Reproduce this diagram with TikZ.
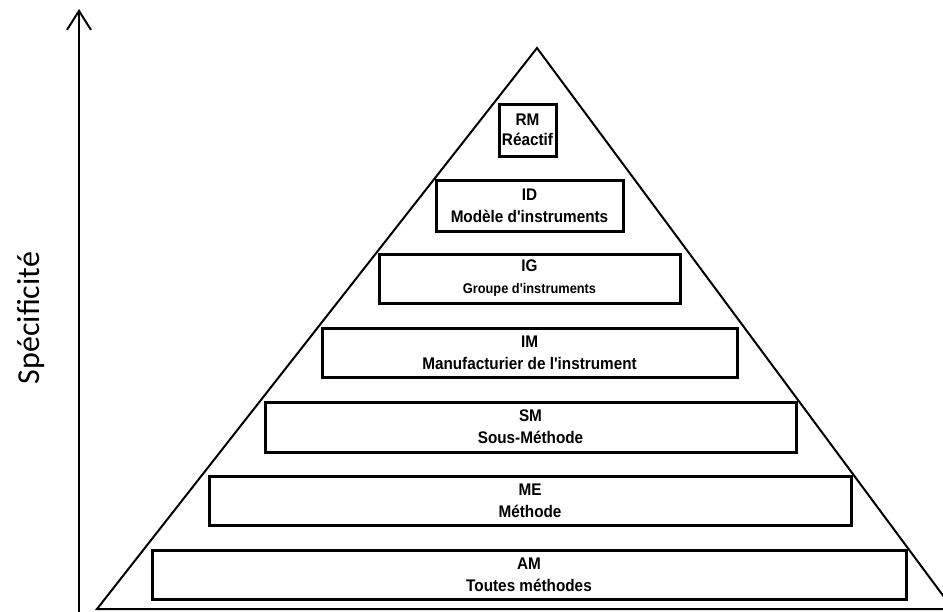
\documentclass[tikz,border=0pt]{standalone}
\usepackage{fontspec}
\usepackage{graphicx}
\setmainfont{Liberation Sans}
\newfontfamily\calib{Carlito}
\usetikzlibrary{arrows.meta}
\newcommand{\apos}{\textquotesingle}
\newcommand{\tallt}[1]{\scalebox{1}[1.1]{#1}}
\tikzset{
  level/.style={draw, line width=3pt, inner sep=0pt, align=center,
    font=\fontsize{15.3}{22}\selectfont\bfseries},
  tri/.style={line width=2pt, line join=miter},
  axis/.style={line width=2pt, -{Straight Barb[length=19pt,width=24pt,line width=2pt]}},
}
\begin{document}
\begin{tikzpicture}[x=1pt,y=-1pt]
\useasboundingbox (0,0) rectangle (943,611);
\begin{scope}
\clip (0,0) rectangle (943,611);
\coordinate (apex) at (537,48);
\coordinate (bl) at (97,609);
\coordinate (br) at (953,609);
\draw[tri] (br) -- (apex) -- (bl) -- (br);
\end{scope}
\coordinate (axbot) at (79,612);
\coordinate (axtop) at (79,9);
\draw[axis] (axbot) -- (axtop);
\node[rotate=90, anchor=base, font=\calib\fontsize{32}{38}\selectfont] (lab) at (39,318) {Spécificité};

\node[level, minimum width=57pt, minimum height=52pt, font=\fontsize{15.3}{20}\selectfont\bfseries] (rm) at (527.5,130) {\tallt{RM}\\\tallt{Réactif}};
\node[level, minimum width=187pt, minimum height=51pt] (id) at (529.5,205.5) {\tallt{ID}\\\tallt{Modèle d\apos instruments}};
\node[level, minimum width=301pt, minimum height=49pt] (ig) at (529.5,278.5) {\tallt{IG}\\{\fontsize{12.8}{22}\selectfont\tallt{Groupe d\apos instruments}}};
\node[level, minimum width=415pt, minimum height=49pt] (im) at (529.5,352.5) {\tallt{IM}\\\tallt{Manufacturier de l\apos instrument}};
\node[level, minimum width=531pt, minimum height=50pt] (sm) at (530.5,427) {\tallt{SM}\\\tallt{Sous-Méthode}};
\node[level, minimum width=642pt, minimum height=49pt] (me) at (530,500.5) {\tallt{ME}\\\tallt{Méthode}};
\node[level, minimum width=754pt, minimum height=49pt] (am) at (529,574.5) {\tallt{AM}\\\tallt{Toutes méthodes}};
\end{tikzpicture}
\end{document}
